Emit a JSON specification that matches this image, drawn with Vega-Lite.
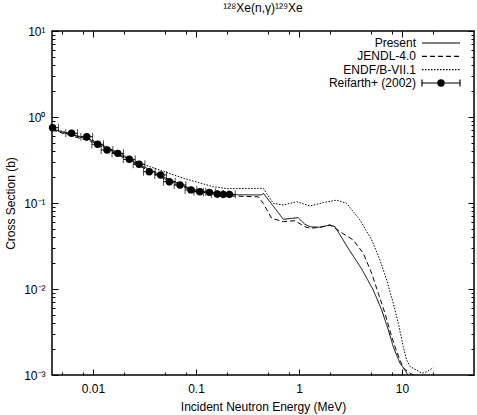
{
  "$schema": "https://vega.github.io/schema/vega-lite/v6.json",
  "width": 422,
  "height": 344,
  "autosize": "none",
  "padding": {"left": 52, "top": 31, "right": 3, "bottom": 40},
  "title": {"text": "¹²⁸Xe(n,γ)¹²⁹Xe", "fontSize": 12, "fontWeight": "normal", "font": "Liberation Sans", "color": "#000", "anchor": "middle", "offset": 10},
  "config": {
    "font": "Liberation Sans",
    "view": {"stroke": "#000", "strokeWidth": 1.5},
    "axis": {"domain": false, "grid": false, "tickColor": "#000", "tickWidth": 1, "labelColor": "#000", "labelFontSize": 12, "labelFont": "Liberation Sans", "titleFont": "Liberation Sans", "titleFontSize": 12, "titleFontWeight": "normal", "titleColor": "#000", "labelOverlap": false, "labelFlush": false, "labelBound": false},
    "legend": {"title": null, "padding": 0, "rowPadding": 1.3, "symbolSize": 100, "symbolStrokeColor": "#000", "symbolStrokeWidth": 1.2, "symbolOpacity": 1,
               "labelAlign": "right", "labelOffset": -31, "labelFontSize": 12, "labelColor": "#000", "labelFont": "Liberation Sans", "labelLimit": 0}
  },
  "datasets": {
    "curves": [
      {"series": "Present", "E": 0.004, "sigma": 0.725},
      {"series": "Present", "E": 0.01, "sigma": 0.53},
      {"series": "Present", "E": 0.02, "sigma": 0.345},
      {"series": "Present", "E": 0.05, "sigma": 0.198},
      {"series": "Present", "E": 0.1, "sigma": 0.138},
      {"series": "Present", "E": 0.2, "sigma": 0.125},
      {"series": "Present", "E": 0.434, "sigma": 0.124},
      {"series": "Present", "E": 0.45, "sigma": 0.130},
      {"series": "Present", "E": 0.705, "sigma": 0.0646},
      {"series": "Present", "E": 0.98, "sigma": 0.0675},
      {"series": "Present", "E": 1.14, "sigma": 0.0566},
      {"series": "Present", "E": 1.28, "sigma": 0.053},
      {"series": "Present", "E": 1.6, "sigma": 0.0522},
      {"series": "Present", "E": 2.0, "sigma": 0.0555},
      {"series": "Present", "E": 2.24, "sigma": 0.053},
      {"series": "Present", "E": 2.99, "sigma": 0.030},
      {"series": "Present", "E": 4.06, "sigma": 0.0171},
      {"series": "Present", "E": 5.26, "sigma": 0.00973},
      {"series": "Present", "E": 6.35, "sigma": 0.0057},
      {"series": "Present", "E": 7.37, "sigma": 0.00334},
      {"series": "Present", "E": 8.23, "sigma": 0.00213},
      {"series": "Present", "E": 9.56, "sigma": 0.00137},
      {"series": "Present", "E": 10.7, "sigma": 0.00114},
      {"series": "Present", "E": 12.0, "sigma": 0.0009},
      {"series": "JENDL-4.0", "E": 0.004, "sigma": 0.706},
      {"series": "JENDL-4.0", "E": 0.01, "sigma": 0.51},
      {"series": "JENDL-4.0", "E": 0.02, "sigma": 0.334},
      {"series": "JENDL-4.0", "E": 0.05, "sigma": 0.19},
      {"series": "JENDL-4.0", "E": 0.1, "sigma": 0.135},
      {"series": "JENDL-4.0", "E": 0.2, "sigma": 0.121},
      {"series": "JENDL-4.0", "E": 0.403, "sigma": 0.118},
      {"series": "JENDL-4.0", "E": 0.45, "sigma": 0.099},
      {"series": "JENDL-4.0", "E": 0.543, "sigma": 0.0664},
      {"series": "JENDL-4.0", "E": 0.705, "sigma": 0.0607},
      {"series": "JENDL-4.0", "E": 0.915, "sigma": 0.0622},
      {"series": "JENDL-4.0", "E": 1.14, "sigma": 0.053},
      {"series": "JENDL-4.0", "E": 1.28, "sigma": 0.0508},
      {"series": "JENDL-4.0", "E": 1.6, "sigma": 0.0522},
      {"series": "JENDL-4.0", "E": 2.0, "sigma": 0.0555},
      {"series": "JENDL-4.0", "E": 2.5, "sigma": 0.0464},
      {"series": "JENDL-4.0", "E": 3.36, "sigma": 0.0372},
      {"series": "JENDL-4.0", "E": 4.21, "sigma": 0.026},
      {"series": "JENDL-4.0", "E": 5.08, "sigma": 0.0152},
      {"series": "JENDL-4.0", "E": 5.89, "sigma": 0.0089},
      {"series": "JENDL-4.0", "E": 6.84, "sigma": 0.0052},
      {"series": "JENDL-4.0", "E": 7.94, "sigma": 0.00279},
      {"series": "JENDL-4.0", "E": 8.88, "sigma": 0.00187},
      {"series": "JENDL-4.0", "E": 10.3, "sigma": 0.0012},
      {"series": "JENDL-4.0", "E": 12.0, "sigma": 0.00105},
      {"series": "JENDL-4.0", "E": 15.0, "sigma": 0.0009},
      {"series": "ENDF/B-VII.1", "E": 0.004, "sigma": 0.74},
      {"series": "ENDF/B-VII.1", "E": 0.01, "sigma": 0.535},
      {"series": "ENDF/B-VII.1", "E": 0.0286, "sigma": 0.29},
      {"series": "ENDF/B-VII.1", "E": 0.0753, "sigma": 0.194},
      {"series": "ENDF/B-VII.1", "E": 0.146, "sigma": 0.155},
      {"series": "ENDF/B-VII.1", "E": 0.2, "sigma": 0.147},
      {"series": "ENDF/B-VII.1", "E": 0.45, "sigma": 0.148},
      {"series": "ENDF/B-VII.1", "E": 0.563, "sigma": 0.099},
      {"series": "ENDF/B-VII.1", "E": 0.705, "sigma": 0.0948},
      {"series": "ENDF/B-VII.1", "E": 0.95, "sigma": 0.1035},
      {"series": "ENDF/B-VII.1", "E": 1.28, "sigma": 0.0923},
      {"series": "ENDF/B-VII.1", "E": 1.72, "sigma": 0.101},
      {"series": "ENDF/B-VII.1", "E": 2.32, "sigma": 0.108},
      {"series": "ENDF/B-VII.1", "E": 2.9, "sigma": 0.099},
      {"series": "ENDF/B-VII.1", "E": 3.91, "sigma": 0.0634},
      {"series": "ENDF/B-VII.1", "E": 5.08, "sigma": 0.0372},
      {"series": "ENDF/B-VII.1", "E": 6.11, "sigma": 0.0217},
      {"series": "ENDF/B-VII.1", "E": 7.1, "sigma": 0.0127},
      {"series": "ENDF/B-VII.1", "E": 8.23, "sigma": 0.00682},
      {"series": "ENDF/B-VII.1", "E": 9.21, "sigma": 0.00399},
      {"series": "ENDF/B-VII.1", "E": 10.3, "sigma": 0.00213},
      {"series": "ENDF/B-VII.1", "E": 11.1, "sigma": 0.00149},
      {"series": "ENDF/B-VII.1", "E": 12.0, "sigma": 0.00125},
      {"series": "ENDF/B-VII.1", "E": 13.9, "sigma": 0.00114},
      {"series": "ENDF/B-VII.1", "E": 15.5, "sigma": 0.00105},
      {"series": "ENDF/B-VII.1", "E": 17.4, "sigma": 0.00109},
      {"series": "ENDF/B-VII.1", "E": 20.1, "sigma": 0.00122}
    ],
    "exp": [
      {"E": 0.00405, "sigma": 0.751, "Elo": 0.00355, "Ehi": 0.00462},
      {"E": 0.0062, "sigma": 0.646, "Elo": 0.00544, "Ehi": 0.00707},
      {"E": 0.0087, "sigma": 0.590, "Elo": 0.00763, "Ehi": 0.00992},
      {"E": 0.0111, "sigma": 0.482, "Elo": 0.00974, "Ehi": 0.01265},
      {"E": 0.0137, "sigma": 0.413, "Elo": 0.0120, "Ehi": 0.0156},
      {"E": 0.0174, "sigma": 0.378, "Elo": 0.0153, "Ehi": 0.0198},
      {"E": 0.0225, "sigma": 0.322, "Elo": 0.0197, "Ehi": 0.0257},
      {"E": 0.0280, "sigma": 0.282, "Elo": 0.0246, "Ehi": 0.0319},
      {"E": 0.0352, "sigma": 0.231, "Elo": 0.0309, "Ehi": 0.0401},
      {"E": 0.0454, "sigma": 0.212, "Elo": 0.0398, "Ehi": 0.0518},
      {"E": 0.0551, "sigma": 0.177, "Elo": 0.0483, "Ehi": 0.0628},
      {"E": 0.0700, "sigma": 0.162, "Elo": 0.0614, "Ehi": 0.0798},
      {"E": 0.0894, "sigma": 0.142, "Elo": 0.0784, "Ehi": 0.1019},
      {"E": 0.109, "sigma": 0.135, "Elo": 0.0956, "Ehi": 0.1243},
      {"E": 0.135, "sigma": 0.133, "Elo": 0.1184, "Ehi": 0.1539},
      {"E": 0.161, "sigma": 0.127, "Elo": 0.1412, "Ehi": 0.1835},
      {"E": 0.184, "sigma": 0.126, "Elo": 0.1614, "Ehi": 0.2098},
      {"E": 0.211, "sigma": 0.126, "Elo": 0.1851, "Ehi": 0.2405}
    ]
  },
  "layer": [
    {
      "data": {"name": "curves"},
      "mark": {"type": "line", "color": "#000", "strokeWidth": 1, "clip": true},
      "encoding": {
        "x": {"field": "E", "type": "quantitative",
              "scale": {"type": "log", "domain": [0.004, 50], "nice": false},
              "axis": {"orient": "bottom", "values": [0.005, 0.008, 0.01, 0.02, 0.05, 0.08, 0.1, 0.2, 0.5, 0.8, 1, 2, 5, 8, 10, 20],
                       "labelExpr": "datum.value == 0.01 ? '0.01' : datum.value == 0.1 ? '0.1' : datum.value == 1 ? '1' : datum.value == 10 ? '10' : ''",
                       "tickSize": {"condition": {"test": "datum.value == 0.01 || datum.value == 0.1 || datum.value == 1 || datum.value == 10", "value": -6}, "value": -3},
                       "labelPadding": 14, "title": "Incident Neutron Energy (MeV)", "titlePadding": 4}},
        "y": {"field": "sigma", "type": "quantitative",
              "scale": {"type": "log", "domain": [0.001, 10], "nice": false},
              "axis": {"orient": "left", "values": [0.001,0.002,0.003,0.004,0.005,0.006,0.007,0.008,0.009,0.01,0.02,0.03,0.04,0.05,0.06,0.07,0.08,0.09,0.1,0.2,0.3,0.4,0.5,0.6,0.7,0.8,0.9,1,2,3,4,5,6,7,8,9,10],
                       "labelExpr": "datum.value == 0.001 ? '10⁻³' : datum.value == 0.01 ? '10⁻²' : datum.value == 0.1 ? '10⁻¹' : datum.value == 1 ? '10⁰' : datum.value == 10 ? '10¹' : ''",
                       "tickSize": {"condition": {"test": "datum.value == 0.001 || datum.value == 0.01 || datum.value == 0.1 || datum.value == 1 || datum.value == 10", "value": -6}, "value": -3},
                       "labelPadding": 13, "title": "Cross Section (b)", "titlePadding": 6}},
        "strokeDash": {"field": "series", "type": "nominal",
                       "scale": {"domain": ["Present", "JENDL-4.0", "ENDF/B-VII.1"], "range": [[1, 0], [5, 3], [1.5, 1.5]]},
                       "legend": {"orient": "none", "legendX": 383, "legendY": 6, "symbolType": "M-3.8,0L3.8,0"}}
      }
    },
    {
      "data": {"name": "exp"},
      "mark": {"type": "rule", "color": "#000", "strokeWidth": 1, "clip": true},
      "encoding": {
        "x": {"field": "Elo", "type": "quantitative", "axis": null},
        "x2": {"field": "Ehi"},
        "y": {"field": "sigma", "type": "quantitative", "axis": null}
      }
    },
    {
      "data": {"name": "exp"},
      "mark": {"type": "tick", "orient": "vertical", "color": "#000", "size": 8, "thickness": 1, "clip": true},
      "encoding": {
        "x": {"field": "Elo", "type": "quantitative", "axis": null},
        "y": {"field": "sigma", "type": "quantitative", "axis": null}
      }
    },
    {
      "data": {"name": "exp"},
      "mark": {"type": "tick", "orient": "vertical", "color": "#000", "size": 8, "thickness": 1, "clip": true},
      "encoding": {
        "x": {"field": "Ehi", "type": "quantitative", "axis": null},
        "y": {"field": "sigma", "type": "quantitative", "axis": null}
      }
    },
    {
      "data": {"name": "exp"},
      "transform": [{"filter": "datum.E < 0"}],
      "mark": {"type": "line", "color": "#000", "strokeWidth": 1.2},
      "encoding": {
        "x": {"field": "E", "type": "quantitative", "axis": null},
        "y": {"field": "sigma", "type": "quantitative", "axis": null},
        "strokeDash": {"datum": "Reifarth+ (2002)", "type": "nominal",
                       "scale": {"domain": ["Reifarth+ (2002)"], "range": [[1, 0]]},
                       "legend": {"orient": "none", "legendX": 383, "legendY": 46,
                                  "symbolType": "M-3.8,0L3.8,0M-3.8,-0.7L-3.8,0.7M3.8,-0.7L3.8,0.7"}}
      }
    },
    {
      "data": {"name": "exp"},
      "transform": [{"filter": "datum.E < 0"}],
      "mark": {"type": "point", "filled": true, "color": "#000", "opacity": 1},
      "encoding": {
        "x": {"field": "E", "type": "quantitative", "axis": null},
        "y": {"field": "sigma", "type": "quantitative", "axis": null},
        "shape": {"datum": "Reifarth+ (2002)", "type": "nominal",
                  "scale": {"domain": ["Reifarth+ (2002)"], "range": ["circle"]},
                  "legend": {"orient": "none", "legendX": 383, "legendY": 46, "symbolSize": 55, "symbolFillColor": "#000", "labelOpacity": 0}}
      }
    },
    {
      "data": {"name": "exp"},
      "mark": {"type": "point", "filled": true, "shape": "circle", "size": 55, "color": "#000", "opacity": 1},
      "encoding": {
        "x": {"field": "E", "type": "quantitative",
              "axis": {"orient": "top", "values": [0.005, 0.008, 0.01, 0.02, 0.05, 0.08, 0.1, 0.2, 0.5, 0.8, 1, 2, 5, 8, 10, 20], "labels": false, "title": null,
                       "tickSize": {"condition": {"test": "datum.value == 0.01 || datum.value == 0.1 || datum.value == 1 || datum.value == 10", "value": -6}, "value": -3}}},
        "y": {"field": "sigma", "type": "quantitative",
              "axis": {"orient": "right", "values": [0.001,0.002,0.003,0.004,0.005,0.006,0.007,0.008,0.009,0.01,0.02,0.03,0.04,0.05,0.06,0.07,0.08,0.09,0.1,0.2,0.3,0.4,0.5,0.6,0.7,0.8,0.9,1,2,3,4,5,6,7,8,9,10], "labels": false, "title": null,
                       "tickSize": {"condition": {"test": "datum.value == 0.001 || datum.value == 0.01 || datum.value == 0.1 || datum.value == 1 || datum.value == 10", "value": -6}, "value": -3}}}
      }
    }
  ],
  "resolve": {"axis": {"x": "independent", "y": "independent"}, "scale": {"strokeDash": "independent"}}
}
